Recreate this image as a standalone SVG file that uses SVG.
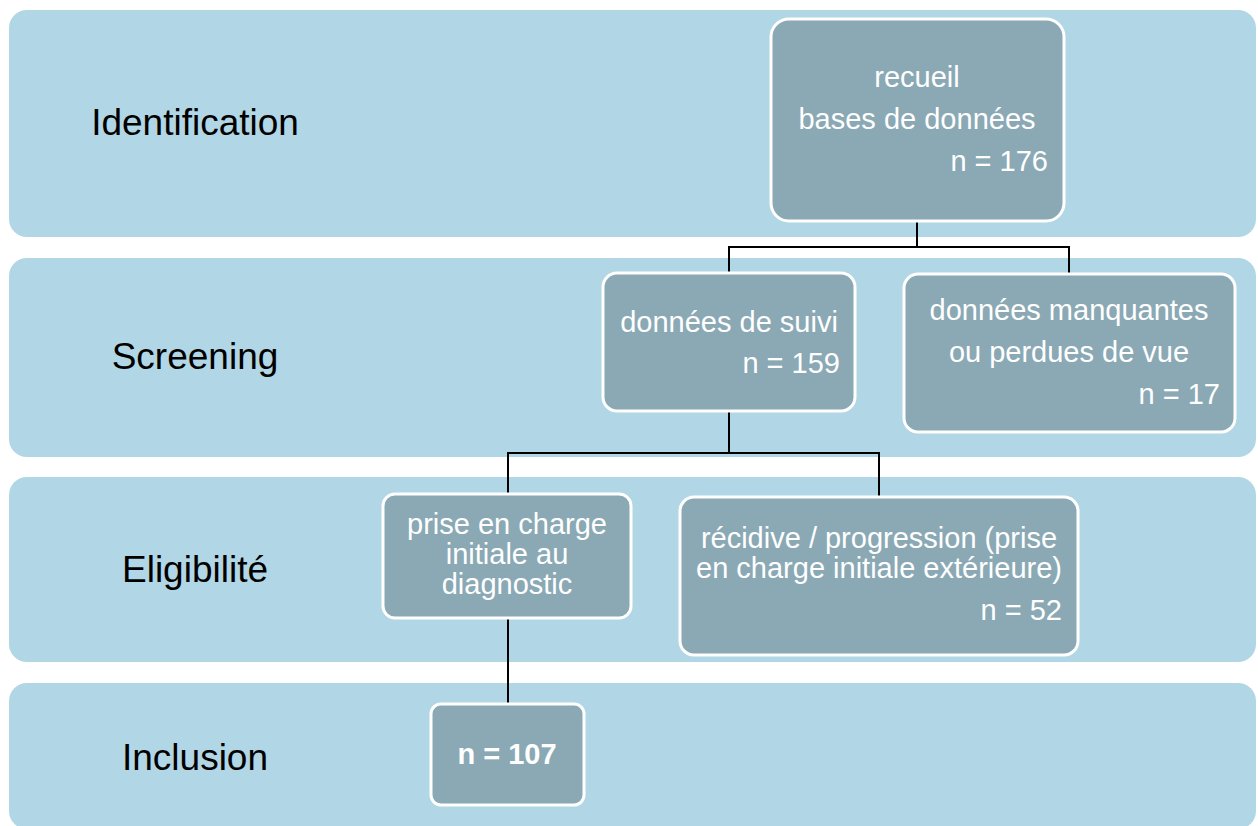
<svg xmlns="http://www.w3.org/2000/svg" width="1258" height="826" viewBox="0 0 1258 826">
<style>
.band{fill:#b1d6e5}
.lbl{font-family:"Liberation Sans",Arial,sans-serif;font-size:37px;fill:#000;text-anchor:middle}
.node{fill:#8aa9b5;stroke:#fff;stroke-width:3}
.t{font-family:"Liberation Sans",Arial,sans-serif;font-size:29px;fill:#fff}
.c{text-anchor:middle}
.r{text-anchor:end}
.b{font-weight:bold}
.conn{fill:none;stroke:#000;stroke-width:2}
</style>
<rect width="1258" height="826" fill="#fff"/>
<g id="bands">
<rect class="band" x="9" y="10" width="1247" height="227" rx="18"/>
<rect class="band" x="9" y="258" width="1247" height="199" rx="18"/>
<rect class="band" x="9" y="477" width="1247" height="185" rx="18"/>
<rect class="band" x="9" y="683" width="1247" height="146" rx="18"/>
</g>
<g id="labels">
<text class="lbl" x="195" y="135">Identification</text>
<text class="lbl" x="195" y="369">Screening</text>
<text class="lbl" x="195" y="582">Eligibilité</text>
<text class="lbl" x="195" y="770">Inclusion</text>
</g>
<g id="connectors">
<path class="conn" d="M917,221 V247 M729,273 V247 H1069 V275"/>
<path class="conn" d="M729,411 V453 M508,494 V453 H879 V497"/>
<path class="conn" d="M508,618 V704"/>
</g>
<g id="n-recueil">
<rect class="node" x="771" y="19" width="293" height="202" rx="18"/>
<text class="t c" x="917" y="87">recueil</text>
<text class="t c" x="917" y="129">bases de données</text>
<text class="t r" x="1048" y="171">n = 176</text>
</g>
<g id="n-suivi">
<rect class="node" x="603" y="273" width="252" height="138" rx="14"/>
<text class="t c" x="729" y="332">données de suivi</text>
<text class="t r" x="840" y="373">n = 159</text>
</g>
<g id="n-manquantes">
<rect class="node" x="904" y="274" width="331" height="158" rx="14"/>
<text class="t c" x="1069" y="320">données manquantes</text>
<text class="t c" x="1069" y="362">ou perdues de vue</text>
<text class="t r" x="1220" y="404">n = 17</text>
</g>
<g id="n-prise">
<rect class="node" x="383" y="494" width="248" height="124" rx="12"/>
<text class="t c" x="507" y="534">prise en charge</text>
<text class="t c" x="507" y="564">initiale au</text>
<text class="t c" x="507" y="594">diagnostic</text>
</g>
<g id="n-recidive">
<rect class="node" x="680" y="497" width="398" height="158" rx="14"/>
<text class="t c" x="879" y="548">récidive / progression (prise</text>
<text class="t c" x="879" y="578">en charge initiale extérieure)</text>
<text class="t r" x="1062" y="620">n = 52</text>
</g>
<g id="n-inclusion">
<rect class="node" x="431" y="704" width="153" height="101" rx="10"/>
<text class="t c b" x="507" y="764">n = 107</text>
</g>
</svg>
